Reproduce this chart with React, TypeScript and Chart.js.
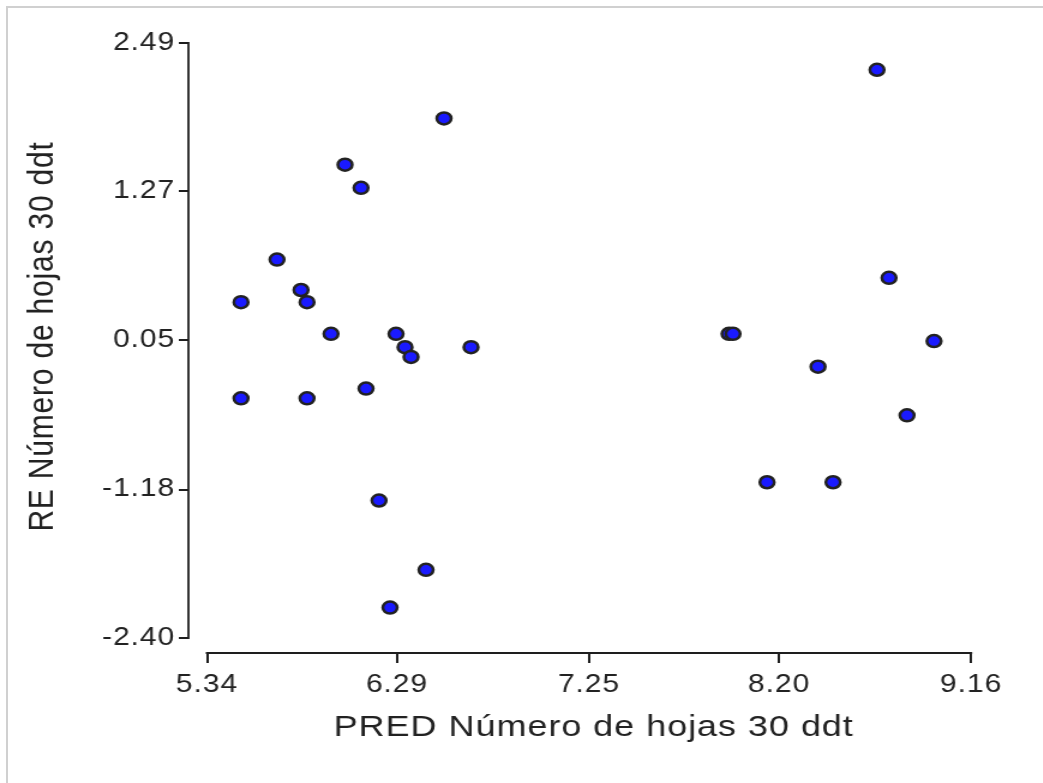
import { useEffect, useRef } from "react";
import { Chart, registerables } from "chart.js";

Chart.register(...registerables);

// Data
const predValues = [
  5.51, 5.51, 5.69, 5.81, 5.84, 5.84, 5.96, 6.03, 6.11, 6.135, 6.2, 6.255, 6.285, 6.33,
  6.36, 6.435, 6.525, 6.66, 7.95, 7.97, 8.14, 8.395, 8.47, 8.69, 8.75, 8.84, 8.975,
];
const residValues = [
  0.36, -0.43, 0.71, 0.46, 0.36, -0.43, 0.1, 1.49, 1.3, -0.35, -1.27, -2.15, 0.1, -0.01,
  -0.09, -1.84, 1.87, -0.01, 0.1, 0.1, -1.12, -0.17, -1.12, 2.27, 0.56, -0.57, 0.04,
];
const xTicks = [5.34, 6.29, 7.25, 8.2, 9.16];
const yTicks = [-2.4, -1.18, 0.05, 1.27, 2.49];
const xTitle = "PRED Número de hojas 30 ddt";
const yTitle = "RE Número de hojas 30 ddt";

const SX = 1.2;
const W = 869;
const H = 783;
const FONT = "'Liberation Sans', Arial, Helvetica, sans-serif";
const INK = "#1e1e1e";

export default function App() {
  const ref = useRef<HTMLCanvasElement>(null);

  useEffect(() => {
    const canvas = ref.current;
    if (!canvas) return;

    const axisLines = {
      id: "axisLines",
      beforeDraw(chart: any) {
        try {
          (chart.ctx as any).letterSpacing = "0.8px";
        } catch (e) {}
      },
      afterDraw(chart: any) {
        try {
          (chart.ctx as any).letterSpacing = "0px";
        } catch (e) {}
      },
      beforeDatasetsDraw(chart: any) {
        const { ctx, chartArea, scales } = chart;
        const xs = scales.x;
        const ys = scales.y;
        ctx.save();
        ctx.strokeStyle = INK;
        ctx.lineCap = "butt";
        ctx.lineWidth = 2;
        ctx.beginPath();
        ctx.moveTo(xs.getPixelForValue(xTicks[0]) - 1, chartArea.bottom);
        ctx.lineTo(xs.getPixelForValue(xTicks[xTicks.length - 1]) + 1, chartArea.bottom);
        ctx.stroke();
        ctx.lineWidth = 1.8;
        ctx.beginPath();
        ctx.moveTo(chartArea.left, ys.getPixelForValue(yTicks[yTicks.length - 1]) - 1);
        ctx.lineTo(chartArea.left, ys.getPixelForValue(yTicks[0]) + 1);
        ctx.stroke();
        ctx.restore();
      },
    };

    const chart = new Chart(canvas, {
      type: "scatter",
      data: {
        datasets: [
          {
            data: predValues.map((x, i) => ({ x, y: residValues[i] })),
            pointRadius: 6,
            pointHoverRadius: 6,
            borderWidth: 2.5,
            backgroundColor: "#1a1aff",
            borderColor: "#222222",
          },
        ],
      },
      options: {
        responsive: false,
        animation: false,
        events: [],
        layout: { padding: { left: 0, top: 20, right: 36.5, bottom: 0 } },
        plugins: {
          legend: { display: false },
          tooltip: { enabled: false },
        },
        scales: {
          x: {
            type: "linear",
            position: "bottom",
            min: 5.247,
            max: 9.3,
            afterBuildTicks: (s: any) => {
              s.ticks = xTicks.map((v) => ({ value: v }));
            },
            afterFit: (s: any) => {
              s.height = 130;
            },
            border: { display: false },
            grid: {
              drawOnChartArea: false,
              drawTicks: true,
              tickLength: 10,
              color: INK,
              lineWidth: 2,
            },
            ticks: {
              autoSkip: false,
              maxRotation: 0,
              minRotation: 0,
              padding: 7,
              color: "#222",
              font: { family: FONT, size: 25 },
              callback: (v: any) => Number(v).toFixed(2),
            },
            title: {
              display: true,
              text: xTitle,
              color: "#222",
              font: { family: FONT, size: 30 },
              padding: { top: 0, bottom: 37 },
            },
          },
          y: {
            type: "linear",
            position: "left",
            min: -2.5233,
            max: 2.679,
            afterBuildTicks: (s: any) => {
              s.ticks = yTicks.map((v) => ({ value: v }));
            },
            afterFit: (s: any) => {
              s.width = 157;
            },
            border: { display: false },
            grid: {
              drawOnChartArea: false,
              drawTicks: true,
              tickLength: 8,
              color: INK,
              lineWidth: 2,
            },
            ticks: {
              autoSkip: false,
              padding: 3,
              color: "#222",
              font: { family: FONT, size: 25 },
              callback: (v: any) => Number(v).toFixed(2),
            },
            title: {
              display: true,
              text: yTitle,
              color: "#222",
              font: { family: FONT, size: 30 },
              padding: { top: 18, bottom: 0 },
            },
          },
        },
      },
      plugins: [axisLines],
    });

    return () => chart.destroy();
  }, []);

  return (
    <div
      style={{
        position: "fixed",
        left: 0,
        top: 0,
        width: 1043,
        height: 783,
        overflow: "hidden",
        background: "#fff",
      }}
    >
      <div
        style={{
          position: "absolute",
          left: 6,
          top: 6,
          width: 2000,
          height: 2000,
          border: "2px solid #d0d0d0",
        }}
      />
      <canvas
        ref={ref}
        width={W}
        height={H}
        style={{
          position: "absolute",
          left: 0,
          top: 0,
          transform: `scaleX(${SX})`,
          transformOrigin: "0 0",
        }}
      />
    </div>
  );
}
